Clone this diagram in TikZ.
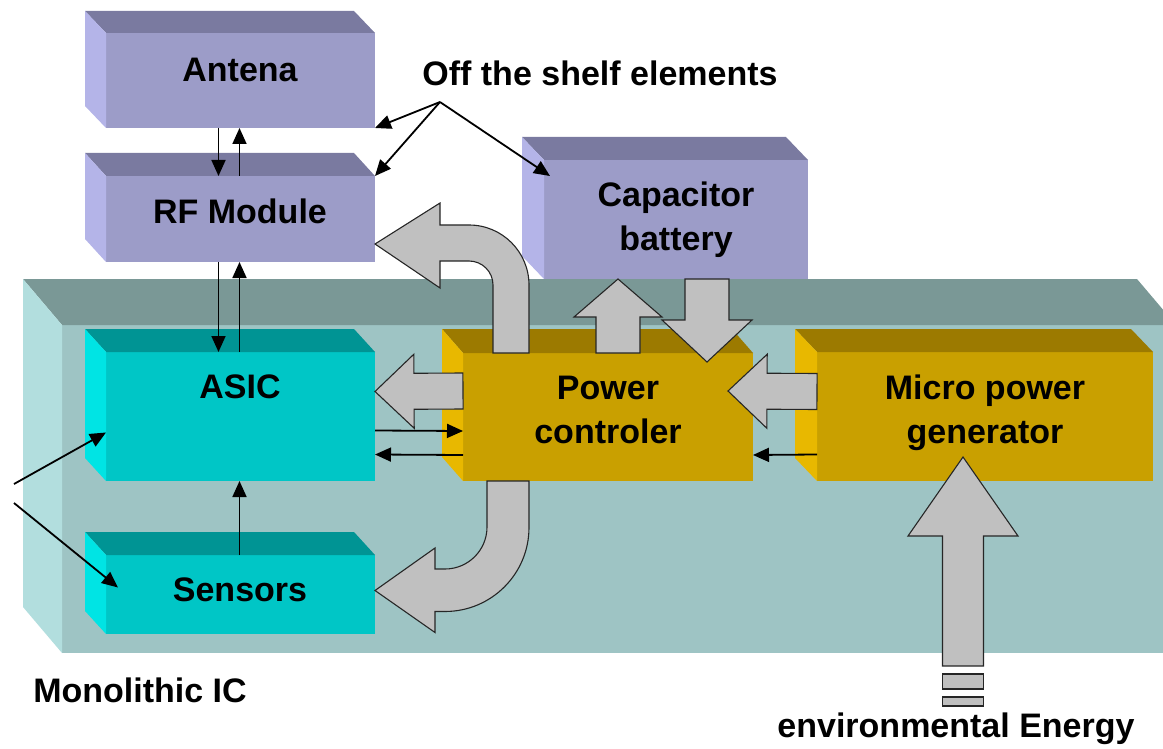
\documentclass[tikz,border=0pt]{standalone}
\usepackage{fontspec}
\setmainfont{Liberation Sans}
\usetikzlibrary{arrows.meta,calc,fit}

\definecolor{lavfront}{HTML}{9C9CC8}
\definecolor{lavtop}{HTML}{7A7AA0}
\definecolor{lavside}{HTML}{B4B4E8}
\definecolor{chipfront}{HTML}{9EC4C4}
\definecolor{chiptop}{HTML}{7A9896}
\definecolor{chipside}{HTML}{B2DEDE}
\definecolor{cyfront}{HTML}{00C6C6}
\definecolor{cytop}{HTML}{009494}
\definecolor{cyside}{HTML}{00E4E4}
\definecolor{goldfront}{HTML}{C9A000}
\definecolor{goldtop}{HTML}{9C7A00}
\definecolor{goldside}{HTML}{E8B800}
\definecolor{flow}{HTML}{C0C0C0}

\tikzset{
  face/.style={inner sep=0pt, outer sep=0pt},
  lbl/.style={font=\bfseries\fontsize{34}{44}\selectfont, align=center, inner sep=0pt},
  sig/.style={line width=1.8pt, -{Triangle[length=16pt,width=14pt]}},
  flowfill/.style={fill=flow, draw=black!85, line width=1.1pt},
}

% front face as a named node, top and left faces set behind it
\newcommand{\drawslab}[6]{%
  \node[face, fill=#6front, fit={#2 #3}] (#1) {};
  \fill[#6top] (#1.north west) -- ++(-#4pt,#5pt) -- ([shift={(-#4pt,#5pt)}]#1.north east) -- (#1.north east) -- cycle;
  \fill[#6side] (#1.north west) -- ++(-#4pt,#5pt) -- ([shift={(-#4pt,#5pt)}]#1.south west) -- (#1.south west) -- cycle;
}

% straight grey arrow: tail, tip, half shaft, half head, head length
\newcommand{\bigarrow}[5]{%
  \coordinate (neck) at ($(#2)!#5!(#1)$);
  \filldraw[flowfill] ($(#1)!#3!90:(#2)$) -- ($(neck)!#3!90:(#2)$) -- ($(neck)!#4!90:(#2)$) -- (#2)
    -- ($(neck)!#4!-90:(#2)$) -- ($(neck)!#3!-90:(#2)$) -- ($(#1)!#3!-90:(#2)$) -- cycle;
}

\begin{document}
\begin{tikzpicture}[x=1pt, y=-1pt]
  \useasboundingbox (0,0) rectangle (1163,749);
  \clip (0,0) rectangle (1163,749);

  % the chip covers the foot of the capacitor
  \drawslab{cap}{(544,160)}{(808,279)}{22}{23}{lav}
  \drawslab{ic}{(62,325)}{(1176,653)}{39}{46}{chip}
  \drawslab{antena}{(106,33)}{(375,128)}{21}{22}{lav}
  \drawslab{rf}{(106,176)}{(375,262)}{21}{23}{lav}
  \drawslab{asic}{(106,352)}{(375,481)}{21}{23}{cy}
  \drawslab{sensors}{(106,555)}{(375,634)}{21}{23}{cy}
  \drawslab{power}{(463,353)}{(753,481)}{21}{24}{gold}
  \drawslab{micro}{(817,352)}{(1153,481)}{22}{23}{gold}

  \node[lbl] (antena-t) at (240,70) {Antena};
  \node[lbl] (rf-t) at (240,211) {RF Module};
  \node[lbl] (cap-t) at (676,220) {Capacitor\\battery};
  \node[lbl] (shelf-t) at (600,73) {Off the shelf elements};
  \node[lbl] (asic-t) at (240,387) {ASIC};
  \node[lbl] (sensors-t) at (240,590) {Sensors};
  \node[lbl] (power-t) at (608,410) {Power\\controler};
  \node[lbl] (micro-t) at (985,413) {Micro power\\generator};
  \node[lbl] (ic-t) at (140,690) {Monolithic IC};
  \node[lbl] (env-t) at (956,729) {environmental Energy};

  % power flow
  \coordinate (pa-tail) at ([yshift=26pt]power.west);
  \coordinate (pa-tip) at ([yshift=25pt]asic.east);
  \bigarrow{pa-tail}{pa-tip}{18pt}{37pt}{39pt}
  \coordinate (mp-tail) at ([yshift=25pt]micro.west);
  \coordinate (mp-tip) at ([shift={(-25pt,26pt)}]power.east);
  \bigarrow{mp-tail}{mp-tip}{18pt}{37pt}{39pt}
  \coordinate (pc-tail) at ([xshift=10pt]power.north);
  \coordinate (pc-tip) at (pc-tail |- cap.south);
  \bigarrow{pc-tail}{pc-tip}{22pt}{44pt}{38pt}
  \coordinate (cp-tail) at ([xshift=31pt]cap.south);
  \coordinate (cp-tip) at ($(cp-tail |- power.north)+(0pt,-9pt)$);
  \bigarrow{cp-tail}{cp-tip}{22pt}{45pt}{42pt}
  \coordinate (env-src) at (963,666);
  \coordinate (env-tip) at ($(env-src |- micro.south)+(0pt,24pt)$);
  \bigarrow{env-src}{env-tip}{20.5pt}{55pt}{79pt}
  \filldraw[flowfill] ([shift={(-20.5pt,-8pt)}]env-src) rectangle ++(41pt,-15pt);
  \filldraw[flowfill] ([shift={(-20.5pt,-31pt)}]env-src) rectangle ++(41pt,-9pt);

  \filldraw[flowfill] ([xshift=-115pt]power.north) -- ++(0pt,68pt)
    arc[start angle=0, end angle=90, radius=24pt] -- ++(-29pt,0pt) -- ++(0pt,-27pt)
    -- ([yshift=-25pt]rf.east) -- ++(65pt,41pt) -- ++(0pt,-22pt) -- ++(29pt,0pt)
    arc[start angle=90, end angle=0, radius=60pt] -- ([xshift=-79pt]power.north) -- cycle;
  \filldraw[flowfill] ([xshift=-121pt]power.south) -- ++(0pt,-46pt)
    arc[start angle=0, end angle=-90, radius=42pt] -- ++(-10pt,0pt) -- ++(0pt,21pt)
    -- ([yshift=4pt]sensors.east) -- ++(60pt,-42pt) -- ++(0pt,21pt) -- ++(10pt,0pt)
    arc[start angle=-90, end angle=0, radius=84pt] -- ([xshift=-79pt]power.south) -- cycle;

  % signals
  \draw[sig] ([xshift=-22pt]antena.south) -- ([xshift=-22pt]rf.north);
  \draw[sig] ([xshift=-1pt]rf.north) -- ([xshift=-1pt]antena.south);
  \draw[sig] ([xshift=-22pt]rf.south) -- ([xshift=-22pt]asic.north);
  \draw[sig] ([xshift=-1pt]asic.north) -- ([xshift=-1pt]rf.south);
  \draw[sig] ([xshift=-1pt]sensors.north) -- ([xshift=-1pt]asic.south);
  \draw[sig] ([yshift=-14pt]asic.east) -- ([yshift=-14pt]power.west);
  \draw[sig] ([yshift=-38pt]power.west) -- ([yshift=-38pt]asic.east);
  \draw[sig] ([yshift=-38pt]micro.west) -- ([yshift=-38pt]power.east);

  \coordinate (shelf-src) at (440,102);
  \draw[sig] (shelf-src) -- (antena.south east);
  \draw[sig] (shelf-src) -- (rf.north east);
  \draw[sig] (shelf-src) -- ([shift={(6pt,-16pt)}]cap.north west);

  \coordinate (ext-a) at (14,484);
  \coordinate (ext-b) at (14,503);
  \draw[sig] (ext-a) -- ([yshift=-16pt]asic.west);
  \draw[sig] (ext-b) -- ([shift={(12pt,7pt)}]sensors.west);
\end{tikzpicture}
\end{document}
